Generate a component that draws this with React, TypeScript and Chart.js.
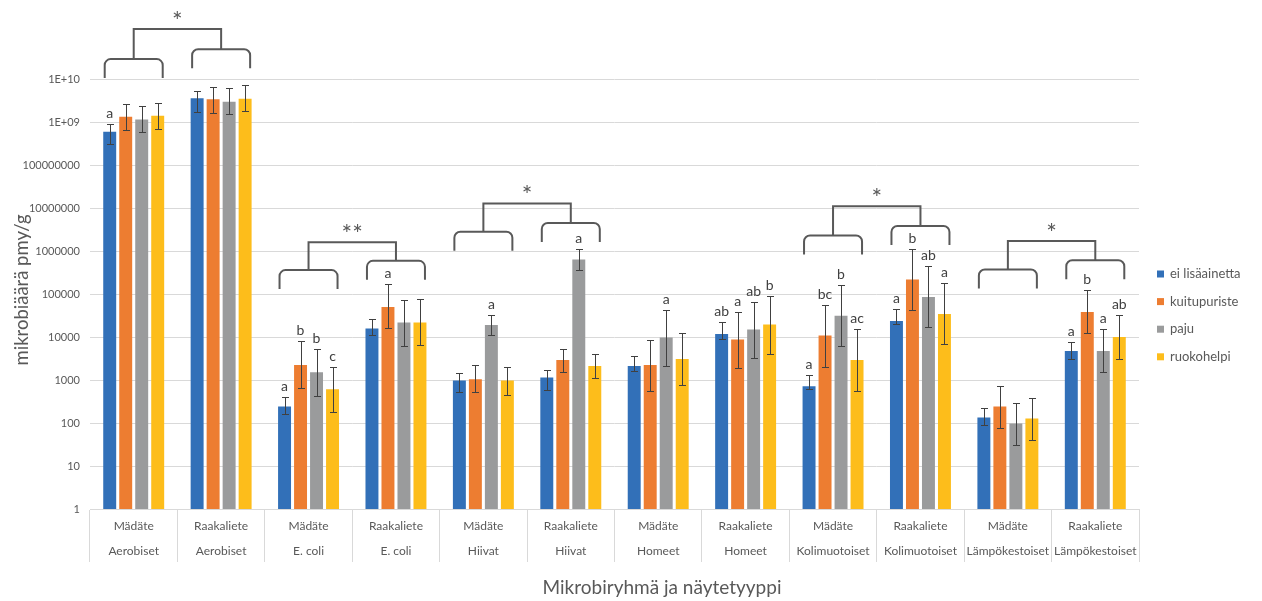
import React, { useEffect, useRef } from "react";
import { Chart, registerables } from "chart.js";

Chart.register(...registerables);

// ---------- data ----------
const sampleTypes = ["Mädäte", "Raakaliete", "Mädäte", "Raakaliete", "Mädäte", "Raakaliete", "Mädäte", "Raakaliete", "Mädäte", "Raakaliete", "Mädäte", "Raakaliete"];
const microbeGroups = ["Aerobiset", "Aerobiset", "E. coli", "E. coli", "Hiivat", "Hiivat", "Homeet", "Homeet", "Kolimuotoiset", "Kolimuotoiset", "Lämpökestoiset", "Lämpökestoiset"];

const seriesNames = ["ei lisäainetta", "kuitupuriste", "paju", "ruokohelpi"];
const seriesColors = ["#3270B8", "#ED7D31", "#9A9B9C", "#FDBD1B"];

const eiLisaainetta = [5.9e8, 3.55e9, 243, 15700, 980, 1150, 2110, 11750, 711, 23600, 135, 4720];
const kuitupuriste = [1.33e9, 3.37e9, 2230, 50000, 1035, 2900, 2230, 8700, 10800, 217000, 243, 38200];
const paju = [1.15e9, 2.96e9, 1507, 21600, 19000, 634000, 9690, 14900, 31400, 85300, 98, 4720];
const ruokohelpi = [1.4e9, 3.48e9, 606, 21600, 980, 2110, 3080, 19400, 2920, 34400, 128, 10000];

const eiLisaainettaHigh = [9.0e8, 5.3e9, 401, 26300, 1480, 1740, 3690, 22300, 1330, 44900, 227, 7650];
const kuitupuristeHigh = [2.6e9, 6.6e9, 7940, 171000, 2190, 5360, 8500, 37600, 55600, 1.14e6, 738, 124000];
const pajuHigh = [2.35e9, 6.3e9, 5170, 74000, 32000, 1.14e6, 42500, 65300, 162000, 450000, 297, 15100];
const ruokohelpiHigh = [2.8e9, 7.4e9, 1970, 76700, 2050, 4100, 12200, 90000, 15100, 178000, 380, 32000];

const eiLisaainettaLow = [3.07e8, 1.68e9, 164, 10960, 516, 596, 1590, 9180, 606, 19800, 91, 3140];
const kuitupuristeLow = [6.5e8, 1.59e9, 664, 16000, 515, 1560, 565, 1940, 2040, 41900, 76, 12600];
const pajuLow = [5.7e8, 1.5e9, 432, 6300, 10960, 371000, 2110, 3310, 6070, 16800, 31, 1560];
const ruokohelpiLow = [6.7e8, 1.8e9, 183, 6400, 456, 1130, 780, 4100, 565, 6760, 41, 3140];

const eiLisaainettaLetters = ["a", "", "a", "", "", "", "", "ab", "a", "a", "", "a"];
const kuitupuristeLetters = ["", "", "b", "a", "", "", "", "a", "bc", "b", "", "b"];
const pajuLetters = ["", "", "b", "", "a", "a", "a", "ab", "b", "ab", "", "a"];
const ruokohelpiLetters = ["", "", "c", "", "", "", "", "b", "ac", "a", "", "ab"];

const yTickValues = [1, 10, 100, 1000, 10000, 100000, 1000000, 10000000, 100000000, 1000000000, 10000000000];

// significance brackets between Mädäte / Raakaliete of a microbe group
const bracketFirstCategory = [0, 2, 4, 8, 10];
const bracketStars = ["*", "**", "*", "*", "*"];
const bracketLeftLevel = [2.9e10, 3.6e5, 2.8e6, 2.3e6, 3.7e5];
const bracketRightLevel = [4.9e10, 5.9e5, 4.5e6, 3.8e6, 6.1e5];
const bracketTopLevel = [1.45e11, 1.6e6, 1.28e7, 1.1e7, 1.7e6];

const yTitle = "mikrobiäärä pmy/g";
const xTitle = "Mikrobiryhmä ja näytetyyppi";

const values = [eiLisaainetta, kuitupuriste, paju, ruokohelpi];
const highs = [eiLisaainettaHigh, kuitupuristeHigh, pajuHigh, ruokohelpiHigh];
const lows = [eiLisaainettaLow, kuitupuristeLow, pajuLow, ruokohelpiLow];
const letters = [eiLisaainettaLetters, kuitupuristeLetters, pajuLetters, ruokohelpiLetters];

const FONT = "Lato, 'Open Sans', sans-serif";
const TEXT = "#595959";

function formatTick(v: number): string {
  if (v >= 1e9) {
    const e = Math.round(Math.log10(v));
    return "1E+" + String(e).padStart(2, "0");
  }
  return String(v);
}

const annotations = {
  id: "annotations",
  afterDatasetsDraw(chart: any) {
    const ctx = chart.ctx;
    const xs = chart.scales.x;
    const ys = chart.scales.y;
    ctx.save();
    // error bars + letters
    chart.data.datasets.forEach((_ds: any, di: number) => {
      const meta = chart.getDatasetMeta(di);
      meta.data.forEach((bar: any, i: number) => {
        const yh = Math.round(ys.getPixelForValue(highs[di][i])) + 0.5;
        const yl = Math.round(ys.getPixelForValue(lows[di][i])) + 0.5;
        const bx = Math.round(bar.x) + 0.5;
        ctx.strokeStyle = "#404040";
        ctx.lineWidth = 1;
        ctx.beginPath();
        ctx.moveTo(bx, yh);
        ctx.lineTo(bx, yl);
        ctx.moveTo(bx - 3.5, yh);
        ctx.lineTo(bx + 3.5, yh);
        ctx.moveTo(bx - 3.5, yl);
        ctx.lineTo(bx + 3.5, yl);
        ctx.stroke();
        const L = letters[di][i];
        if (L) {
          ctx.fillStyle = "#404040";
          ctx.font = `14px ${FONT}`;
          ctx.textAlign = "center";
          ctx.textBaseline = "alphabetic";
          ctx.fillText(L, bar.x, yh - 7);
        }
      });
    });
    // brackets
    const half = 29;
    const leg = 19;
    const r = 6;
    ctx.strokeStyle = "#595959";
    ctx.lineWidth = 2;
    const sub = (cx: number, yy: number) => {
      ctx.beginPath();
      ctx.moveTo(cx - half, yy + leg);
      ctx.arcTo(cx - half, yy, cx - half + r, yy, r);
      ctx.lineTo(cx + half - r, yy);
      ctx.arcTo(cx + half, yy, cx + half, yy + leg, r);
      ctx.lineTo(cx + half, yy + leg);
      ctx.stroke();
    };
    bracketFirstCategory.forEach((c, k) => {
      const cl = xs.getPixelForValue(c);
      const cr = xs.getPixelForValue(c + 1);
      const yl = ys.getPixelForValue(bracketLeftLevel[k]);
      const yr = ys.getPixelForValue(bracketRightLevel[k]);
      const yt = ys.getPixelForValue(bracketTopLevel[k]);
      sub(cl, yl);
      sub(cr, yr);
      ctx.beginPath();
      ctx.moveTo(cl, yl);
      ctx.lineTo(cl, yt);
      ctx.lineTo(cr, yt);
      ctx.lineTo(cr, yr);
      ctx.stroke();
      ctx.fillStyle = "#595959";
      ctx.font = `25px ${FONT}`;
      ctx.textAlign = "center";
      ctx.textBaseline = "middle";
      ctx.fillText(bracketStars[k], (cl + cr) / 2, yt - 7);
    });
    ctx.restore();
  },
  afterDraw(chart: any) {
    const ctx = chart.ctx;
    const ca = chart.chartArea;
    ctx.save();
    // legend
    ctx.font = `13px ${FONT}`;
    ctx.textAlign = "left";
    ctx.textBaseline = "middle";
    seriesNames.forEach((name, i) => {
      const ly = 274 + i * 27.6;
      ctx.fillStyle = seriesColors[i];
      ctx.fillRect(ca.right + 18, ly - 3.5, 7, 7);
      ctx.fillStyle = TEXT;
      ctx.fillText(name, ca.right + 31, ly);
    });
    // x title
    ctx.font = `19px ${FONT}`;
    ctx.textAlign = "center";
    ctx.fillText(xTitle, 662, 588);
    // y title
    ctx.font = `18.5px ${FONT}`;
    ctx.translate(22, (ca.top + ca.bottom) / 2 - 4);
    ctx.rotate(-Math.PI / 2);
    ctx.fillText(yTitle, 0, 0);
    ctx.restore();
  },
};

export default function App() {
  const ref = useRef<HTMLCanvasElement | null>(null);
  useEffect(() => {
    if (!ref.current) return;
    const labels = sampleTypes.map((s, i) => [s, microbeGroups[i]]);
    const chart = new Chart(ref.current, {
      type: "bar",
      data: {
        labels,
        datasets: seriesNames.map((name, i) => ({
          label: name,
          data: values[i],
          backgroundColor: seriesColors[i],
          borderWidth: 0,
          categoryPercentage: 0.732,
          barPercentage: 0.81,
        })),
      },
      options: {
        responsive: false,
        animation: false,
        layout: { padding: { top: 79, right: 123, left: 0, bottom: 0 } },
        plugins: { legend: { display: false }, tooltip: { enabled: false } },
        scales: {
          x: {
            grid: { offset: true, drawOnChartArea: false, tickLength: 53, color: "#d9d9d9" },
            border: { color: "#d9d9d9" },
            ticks: {
              autoSkip: false,
              maxRotation: 0,
              minRotation: 0,
              padding: -48,
              color: TEXT,
              font: { family: FONT, size: 12, lineHeight: "25px" },
            },
            afterFit: (s: any) => {
              s.height = 92;
            },
          },
          y: {
            type: "logarithmic",
            min: 1,
            max: 1e10,
            grid: { color: "#d9d9d9", drawTicks: false },
            border: { display: false },
            afterBuildTicks: (s: any) => {
              s.ticks = yTickValues.map((v) => ({ value: v }));
            },
            ticks: {
              padding: 10,
              color: TEXT,
              font: { family: FONT, size: 11 },
              callback: (v: any) => formatTick(Number(v)),
            },
            afterFit: (s: any) => {
              s.width = 90;
            },
          },
        },
      },
      plugins: [annotations],
    } as any);
    return () => chart.destroy();
  }, []);
  return (
    <div style={{ position: "fixed", left: 0, top: 0, width: 1262, height: 601, background: "#fff" }}>
      <canvas ref={ref} width={1262} height={601} />
    </div>
  );
}
